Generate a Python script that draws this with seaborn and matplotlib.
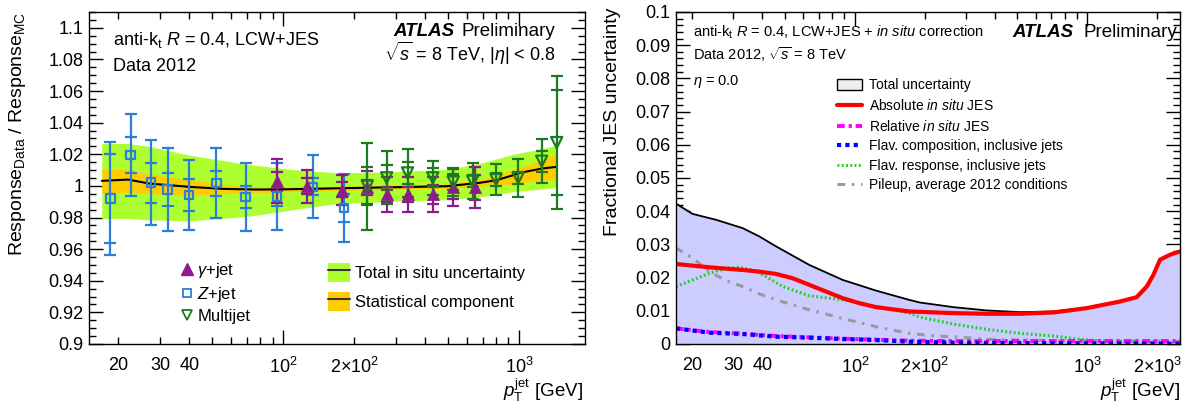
import numpy as np
import pandas as pd
import matplotlib
matplotlib.use("Agg")
import matplotlib.pyplot as plt
import seaborn as sns
from matplotlib.ticker import FixedLocator, FuncFormatter, MultipleLocator
from matplotlib.patches import Patch
from matplotlib.lines import Line2D
from matplotlib.legend_handler import HandlerTuple

# ---------------- Left panel data ----------------
band_pt = [17, 22, 27, 40, 56, 66, 77, 106, 125, 171, 258, 493, 676, 800, 930, 1000, 1250, 1430]
band_center = [1.0032, 1.0040, 1.0015, 0.9994, 0.9981, 0.9979, 0.9977, 0.9979, 0.9981, 0.9985,
               0.9990, 0.9998, 1.0019, 1.0036, 1.0065, 1.0082, 1.0110, 1.0120]
tot_up = [1.0268, 1.0268, 1.0250, 1.0194, 1.0160, 1.0142, 1.0130, 1.0105, 1.0097, 1.0082,
          1.0088, 1.0104, 1.0142, 1.0170, 1.0198, 1.0208, 1.0235, 1.0257]
tot_lo = [0.9794, 0.9794, 0.9785, 0.9779, 0.9795, 0.9804, 0.9815, 0.9846, 0.9862, 0.9889,
          0.9899, 0.9914, 0.9930, 0.9945, 0.9962, 0.9968, 0.9980, 0.9990]
stat_up = [1.0104, 1.0105, 1.0075, 1.0040, 1.0010, 0.9998, 0.9995, 0.9993, 0.9995, 0.9998,
           1.0003, 1.0012, 1.0040, 1.0065, 1.0100, 1.0115, 1.0165, 1.0205]
stat_lo = [0.9952, 0.9960, 0.9950, 0.9941, 0.9950, 0.9956, 0.9958, 0.9963, 0.9966, 0.9972,
           0.9977, 0.9984, 0.9998, 1.0005, 1.0010, 1.0015, 1.0040, 1.0036]

gam_pt = [94.2, 126, 177, 227, 274, 336, 430, 525, 649]
gam_val = [1.0030, 0.9998, 0.9977, 0.9990, 0.9946, 0.9946, 0.9946, 0.9990, 0.9990]
gam_err = [0.014, 0.0105, 0.0095, 0.0105, 0.011, 0.011, 0.011, 0.0115, 0.013]
gam_stat = [0.006, 0.005, 0.005, 0.005, 0.005, 0.005, 0.006, 0.007, 0.008]

z_pt = [18.5, 22.5, 27.4, 32.3, 39.7, 52, 69.2, 93.7, 133, 181]
z_val = [0.9920, 1.0194, 1.0021, 0.9977, 0.9943, 1.0017, 0.9931, 0.9933, 0.9994, 0.9861]
z_err = [0.036, 0.026, 0.027, 0.026, 0.0224, 0.022, 0.0215, 0.021, 0.020, 0.0215]
z_stat = [0.028, 0.0114, 0.0127, 0.0106, 0.010, 0.0079, 0.0068, 0.006, 0.0054, 0.009]

mj_pt = [227, 274, 336, 430, 525, 635, 797, 990, 1245, 1441]
mj_val = [0.9998, 1.0051, 1.0082, 1.0051, 1.0025, 1.0030, 1.0040, 1.0051, 1.0156, 1.0274]
mj_err = [0.0275, 0.0167, 0.015, 0.0107, 0.009, 0.0113, 0.0098, 0.012, 0.014, 0.042]
mj_stat = [0.012, 0.008, 0.007, 0.006, 0.005, 0.004, 0.004, 0.004, 0.0065, 0.033]

# ---------------- Right panel data ----------------
tot_pt = [17, 20, 25.3, 32.9, 38.8, 45.8, 63.7, 88.6, 123, 171, 190, 265, 369, 513, 714, 992,
          1381, 1628, 1798, 1920, 2052, 2266, 2500]
tot_val = [0.0423, 0.0392, 0.0374, 0.0349, 0.0324, 0.0294, 0.0238, 0.0193, 0.0161, 0.0133, 0.0125,
           0.0111, 0.0101, 0.0096, 0.0098, 0.0109, 0.0129, 0.0142, 0.0174, 0.0209, 0.0255, 0.0270, 0.0280]

abs_pt = [17, 23.65, 32.9, 38.8, 45.8, 54, 63.7, 75.1, 88.6, 104.4, 123.2, 171.4, 223, 265, 369,
          513, 714, 992, 1381, 1628, 1798, 1920, 2052, 2266, 2500]
abs_val = [0.0241, 0.0231, 0.0223, 0.0218, 0.0211, 0.0198, 0.0178, 0.0158, 0.0138, 0.0123, 0.0111,
           0.0098, 0.0095, 0.0093, 0.0091, 0.0091, 0.0095, 0.0108, 0.0128, 0.0141, 0.0173, 0.0208,
           0.0254, 0.0269, 0.0279]

flr_pt = [17, 20.05, 23.65, 27.9, 31.8, 36.3, 41.5, 48.9, 63.7, 88.6, 104.4, 123.2, 171.4, 190, 265,
          369, 513, 714, 992, 1381, 2500]
flr_val = [0.0173, 0.0193, 0.0213, 0.0228, 0.0231, 0.0223, 0.0203, 0.0173, 0.0145, 0.0133, 0.0123,
           0.0113, 0.0093, 0.0081, 0.0060, 0.0044, 0.0032, 0.0024, 0.0012, 0.0007, 0.0004]

pu_pt = [17, 20.05, 23.65, 27.9, 32.9, 38.8, 45.8, 63.7, 88.6, 123.2, 171.4, 223, 265, 369, 714, 2500]
pu_val = [0.0289, 0.0259, 0.0218, 0.0191, 0.0173, 0.0151, 0.0133, 0.0103, 0.0077, 0.0052, 0.0032,
          0.0024, 0.0022, 0.0014, 0.0010, 0.0008]

small_pt = [17, 23.65, 32.9, 45.8, 63.7, 88.6, 123.2, 171.4, 265, 513, 992, 2500]
flc_val = [0.0047, 0.0034, 0.0030, 0.0022, 0.0019, 0.0015, 0.0012, 0.0007, 0.0004, 0.0003, 0.0002, 0.0001]
rel_val = [0.0047, 0.0036, 0.0031, 0.0024, 0.0020, 0.0016, 0.0013, 0.0010, 0.0009, 0.0009, 0.0009, 0.0009]

# ---------------- Style ----------------
sns.set_theme(style="ticks")
plt.rcParams.update({
    "font.family": ["Liberation Sans", "DejaVu Sans"],
    "mathtext.fontset": "custom",
    "mathtext.rm": "Liberation Sans",
    "mathtext.it": "Liberation Sans:italic",
    "mathtext.bf": "Liberation Sans:bold",
    "axes.linewidth": 1.0,
    "axes.edgecolor": "black",
    "text.color": "black",
})

C_GREEN = "#adff2f"
C_YELLOW = "#ffcc00"
C_PURPLE = "#8e1b8e"
C_BLUE = "#2b7fd8"
C_DGREEN = "#1e7a1e"
LS_PU = (0, (2.5, 2.2, 0.8, 2.2))
LS_FLR = (0, (0.6, 0.8))
LS_REL = (0, (2, 1, 0.8, 1))
LS_FLC = (0, (1, 1))

fig = plt.figure(figsize=(11.9, 4.07), dpi=100)
W, H = 1190, 407
ax1 = fig.add_axes([89 / W, 1 - 344 / H, 496 / W, 332 / H])
ax2 = fig.add_axes([676 / W, 1 - 344 / H, 504 / W, 332 / H])


def style_log_x(ax, xmin, xmax, minor_labels):
    ax.set_xscale("log")
    ax.set_xlim(xmin, xmax)
    ax.xaxis.set_major_locator(FixedLocator([100, 1000]))
    minors = [m * d for d in (10, 100, 1000) for m in range(2, 10)]
    minors = [v for v in minors if xmin <= v <= xmax]
    ax.xaxis.set_minor_locator(FixedLocator(minors))
    maj = {100: "$10^{2}$", 1000: "$10^{3}$"}
    ax.xaxis.set_major_formatter(FuncFormatter(lambda v, p: maj.get(int(round(v)), "")))
    ax.xaxis.set_minor_formatter(FuncFormatter(lambda v, p: minor_labels.get(int(round(v)), "")))
    ax.tick_params(which="both", direction="in", top=True, right=True, labelsize=13,
                   colors="black", width=1)
    ax.tick_params(axis="x", which="both", pad=9)
    ax.tick_params(axis="y", which="both", pad=4)
    ax.tick_params(which="major", length=10)
    ax.tick_params(which="minor", length=5)
    for s in ax.spines.values():
        s.set_visible(True)
        s.set_color("black")


def yfmt(v, p):
    return f"{round(v, 4):g}"


# ---------------- Left panel ----------------
ax1.fill_between(band_pt, tot_lo, tot_up, color=C_GREEN, lw=0)
ax1.fill_between(band_pt, stat_lo, stat_up, color=C_YELLOW, lw=0)
sns.lineplot(x=band_pt, y=band_center, ax=ax1, color="black", lw=1.5)

for pts, vals, errs, stats, col in [(z_pt, z_val, z_err, z_stat, C_BLUE),
                                     (gam_pt, gam_val, gam_err, gam_stat, C_PURPLE),
                                     (mj_pt, mj_val, mj_err, mj_stat, C_DGREEN)]:
    ax1.errorbar(pts, vals, yerr=errs, fmt="none", ecolor=col, elinewidth=1.6, capsize=4, capthick=1.6)
    ax1.errorbar(pts, vals, yerr=stats, fmt="none", ecolor=col, elinewidth=0, capsize=4, capthick=1.6)

sns.scatterplot(x=z_pt, y=z_val, ax=ax1, marker="s", s=36, facecolor="none", edgecolor=C_BLUE,
                linewidth=1.6, zorder=5)
sns.scatterplot(x=gam_pt, y=gam_val, ax=ax1, marker="^", s=75, color=C_PURPLE, edgecolor=C_PURPLE,
                linewidth=0.5, zorder=6)
sns.scatterplot(x=mj_pt, y=mj_val, ax=ax1, marker="v", s=65, facecolor="none", edgecolor=C_DGREEN,
                linewidth=1.6, zorder=7)

style_log_x(ax1, 15, 1900, {20: "20", 30: "30", 40: "40", 200: "$2{\\times}10^{2}$"})
ax1.set_ylim(0.9, 1.11)
ax1.yaxis.set_major_locator(MultipleLocator(0.02))
ax1.yaxis.set_minor_locator(MultipleLocator(0.005))
ax1.yaxis.set_major_formatter(FuncFormatter(yfmt))
ax1.set_xlabel("")
ax1.set_ylabel("")

ax1.text(0.049, 0.916, "anti-k$_{\\mathrm{t}}$ $R$ = 0.4, LCW+JES", transform=ax1.transAxes,
         fontsize=13, ha="left", va="center")
ax1.text(0.049, 0.835, "Data 2012", transform=ax1.transAxes, fontsize=13, ha="left", va="center")
ax1.text(0.614, 0.94, "ATLAS", transform=ax1.transAxes, fontsize=13.5, fontweight="bold",
         fontstyle="italic", ha="left", va="center")
ax1.text(0.940, 0.94, "Preliminary", transform=ax1.transAxes, fontsize=13.5, ha="right", va="center")
ax1.text(0.940, 0.876, "$\\sqrt{s}$ = 8 TeV, $|\\eta|$ < 0.8", transform=ax1.transAxes,
         fontsize=13, ha="right", va="center")

h_g = Line2D([], [], marker="^", ls="none", color=C_PURPLE, markersize=8)
h_z = Line2D([], [], marker="s", ls="none", mfc="none", mec=C_BLUE, markersize=6, mew=1.3)
h_m = Line2D([], [], marker="v", ls="none", mfc="none", mec=C_DGREEN, markersize=7, mew=1.3)
leg1 = ax1.legend([h_g, h_z, h_m], ["$\\gamma$+jet", "$Z$+jet", "Multijet"],
                  loc="upper left", bbox_to_anchor=(0.185, 0.25), frameon=False, fontsize=12,
                  handlelength=0.7, handletextpad=0.3, labelspacing=0.3, borderpad=0,
                  borderaxespad=0)
ax1.add_artist(leg1)
h_tot = (Patch(facecolor=C_GREEN, edgecolor="none"), Line2D([], [], color="#333333", lw=1.5))
h_stat = (Patch(facecolor=C_YELLOW, edgecolor="none"), Line2D([], [], color="#333333", lw=1.5))
ax1.legend([h_tot, h_stat], ["Total in situ uncertainty", "Statistical component"],
           handler_map={tuple: HandlerTuple(ndivide=1, pad=0)},
           loc="upper left", bbox_to_anchor=(0.482, 0.245), frameon=False, fontsize=12,
           handlelength=1.3, handleheight=1.4, handletextpad=0.3, labelspacing=0.6, borderpad=0,
           borderaxespad=0)

fig.text(18 / W, 1 - 12 / H, "Response$_{\\mathrm{Data}}$ / Response$_{\\mathrm{MC}}$", rotation=90,
         fontsize=14, ha="center", va="top")
fig.text(583 / W, 1 - 390 / H, "$p_{\\mathrm{T}}^{\\mathrm{jet}}$ [GeV]", fontsize=13.5, ha="right",
         va="center")

# ---------------- Right panel ----------------
ax2.fill_between(tot_pt, 0, tot_val, color="#ccccff", lw=0)
sns.lineplot(x=tot_pt, y=tot_val, ax=ax2, color="black", lw=1.3)
sns.lineplot(x=pu_pt, y=pu_val, ax=ax2, color="#999999", lw=2.2, linestyle=LS_PU)
sns.lineplot(x=flr_pt, y=flr_val, ax=ax2, color="#22cc22", lw=2.2, linestyle=LS_FLR)
sns.lineplot(x=small_pt, y=rel_val, ax=ax2, color="#ff00ff", lw=2.8, linestyle=LS_REL)
sns.lineplot(x=small_pt, y=flc_val, ax=ax2, color="#0000ff", lw=3, linestyle=LS_FLC)
sns.lineplot(x=abs_pt, y=abs_val, ax=ax2, color="#ff0000", lw=3)

style_log_x(ax2, 17, 2500, {20: "20", 30: "30", 40: "40", 200: "$2{\\times}10^{2}$",
                            2000: "$2{\\times}10^{3}$"})
ax2.set_ylim(0, 0.1)
ax2.yaxis.set_major_locator(MultipleLocator(0.01))
ax2.yaxis.set_minor_locator(MultipleLocator(0.002))
ax2.yaxis.set_major_formatter(FuncFormatter(yfmt))
ax2.set_xlabel("")
ax2.set_ylabel("")

ax2.text(0.033, 0.94, "anti-k$_{\\mathrm{t}}$ $R$ = 0.4, LCW+JES + $\\mathit{in\\ situ}$ correction",
         transform=ax2.transAxes, fontsize=10.5, ha="left", va="center")
ax2.text(0.033, 0.871, "Data 2012, $\\sqrt{s}$ = 8 TeV", transform=ax2.transAxes, fontsize=10.5,
         ha="left", va="center")
ax2.text(0.033, 0.792, "$\\eta$ = 0.0", transform=ax2.transAxes, fontsize=10.5, ha="left", va="center")
ax2.text(0.668, 0.937, "ATLAS", transform=ax2.transAxes, fontsize=13.5, fontweight="bold",
         fontstyle="italic", ha="left", va="center")
ax2.text(0.995, 0.937, "Preliminary", transform=ax2.transAxes, fontsize=13.5, ha="right", va="center")

hr = [Patch(facecolor="#eeeeee", edgecolor="black", lw=1),
      Line2D([], [], color="#ff0000", lw=3),
      Line2D([], [], color="#ff00ff", lw=2.8, ls=LS_REL),
      Line2D([], [], color="#0000ff", lw=3, ls=LS_FLC),
      Line2D([], [], color="#22cc22", lw=2.2, ls=LS_FLR),
      Line2D([], [], color="#999999", lw=2.2, ls=LS_PU)]
lr = ["Total uncertainty", "Absolute $\\mathit{in\\ situ}$ JES", "Relative $\\mathit{in\\ situ}$ JES",
      "Flav. composition, inclusive jets", "Flav. response, inclusive jets",
      "Pileup, average 2012 conditions"]
ax2.legend(hr, lr, loc="upper left", bbox_to_anchor=(0.319, 0.80), frameon=False, fontsize=10,
           handlelength=1.85, handleheight=0.75, handletextpad=0.5, labelspacing=0.4, borderpad=0,
           borderaxespad=0)

fig.text(613 / W, 1 - 8 / H, "Fractional JES uncertainty", rotation=90, fontsize=14, ha="center",
         va="top")
fig.text(1180 / W, 1 - 390 / H, "$p_{\\mathrm{T}}^{\\mathrm{jet}}$ [GeV]", fontsize=13.5, ha="right",
         va="center")

fig.savefig("out.png", dpi=100)
